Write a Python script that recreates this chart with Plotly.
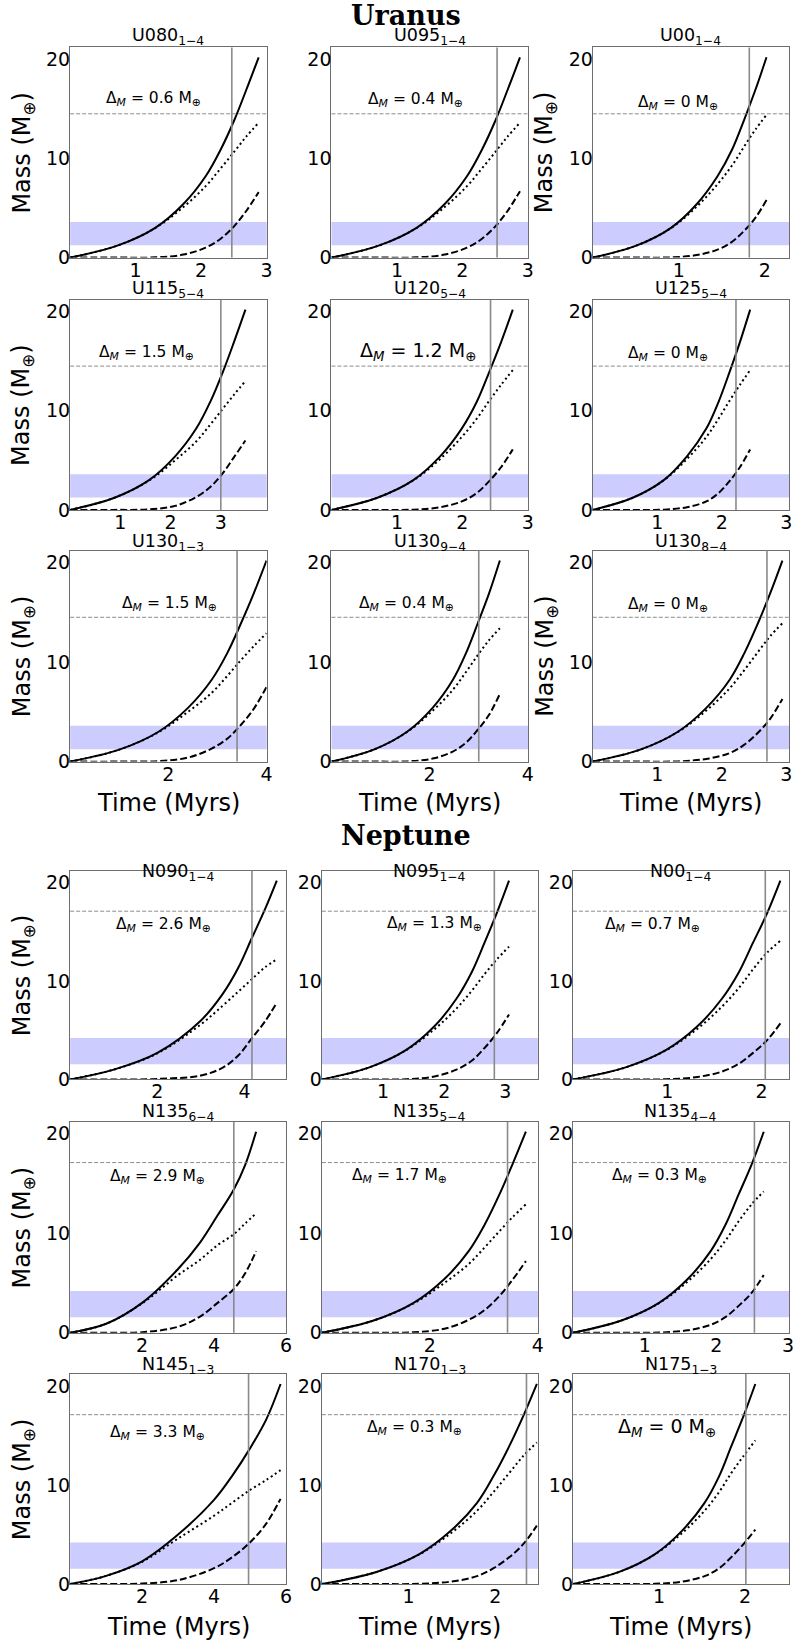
import plotly.graph_objects as go

# ------------------------------------------------------------------ data
URANUS_MASS = 14.5
NEPTUNE_MASS = 17.1
URANUS_BAND = [1.25, 3.6]
NEPTUNE_BAND = [1.55, 4.2]

NAMES = ["U080", "U095", "U00", "U115", "U120", "U125", "U130", "U130", "U130",
         "N090", "N095", "N00", "N135", "N135", "N135", "N145", "N170", "N175"]
SUBS = ["1−4", "1−4", "1−4", "5−4", "5−4", "5−4", "1−3", "9−4", "8−4",
        "1−4", "1−4", "1−4", "6−4", "5−4", "4−4", "1−3", "1−3", "1−3"]
DELTA = ["0.6", "0.4", "0", "1.5", "1.2", "0", "1.5", "0.4", "0",
         "2.6", "1.3", "0.7", "2.9", "1.7", "0.3", "3.3", "0.3", "0"]
VLINE_T = [2.47, 2.53, 1.82, 3.0, 2.43, 2.22, 3.4, 3.0, 2.7,
           4.17, 2.82, 2.04, 4.55, 3.44, 2.53, 4.96, 2.36, 2.01]
X_MAX = [3, 3, 2.28, 3.91, 3, 3.04, 4, 4, 3.04,
         4.95, 3.53, 2.29, 6, 4, 3.01, 6, 2.49, 2.51]
X_TICKS = [[1, 2, 3], [1, 2, 3], [1, 2], [1, 2, 3], [1, 2, 3], [1, 2, 3], [2, 4], [2, 4], [1, 2, 3],
           [2, 4], [1, 2, 3], [1, 2], [2, 4, 6], [2, 4], [1, 2, 3], [2, 4, 6], [1, 2], [1, 2]]
Y_TICKS = [0, 10, 20]

TIME = [
    [0, 0.72, 1.30, 1.73, 2.07, 2.30, 2.51, 2.69, 2.88],
    [0, 0.72, 1.30, 1.73, 2.07, 2.30, 2.51, 2.69, 2.88],
    [0, 0.505, 0.91, 1.21, 1.45, 1.62, 1.76, 1.89, 2.02],
    [0, 0.87, 1.57, 2.09, 2.51, 2.79, 3.04, 3.26, 3.49],
    [0, 0.69, 1.25, 1.66, 1.99, 2.22, 2.41, 2.59, 2.77],
    [0, 0.61, 1.10, 1.46, 1.76, 1.95, 2.12, 2.28, 2.44],
    [0, 1.0, 1.8, 2.4, 2.88, 3.2, 3.48, 3.74, 4.0],
    [0, 0.86, 1.54, 2.06, 2.47, 2.74, 2.98, 3.21, 3.43],
    [0, 0.735, 1.32, 1.76, 2.12, 2.35, 2.56, 2.75, 2.94],
    [0, 1, 2, 3, 3.5, 3.85, 4.17, 4.47, 4.74],
    [0, 0.765, 1.38, 1.84, 2.20, 2.45, 2.66, 2.86, 3.06],
    [0, 0.55, 0.99, 1.32, 1.58, 1.76, 1.91, 2.06, 2.2],
    [0, 1, 2, 3, 3.6, 4.1, 4.55, 4.87, 5.17],
    [0, 0.945, 1.70, 2.27, 2.72, 3.02, 3.29, 3.53, 3.78],
    [0, 0.665, 1.20, 1.60, 1.92, 2.13, 2.31, 2.49, 2.66],
    [0, 1, 2, 3, 4, 4.5, 5, 5.45, 5.85],
    [0, 0.62, 1.12, 1.49, 1.79, 1.98, 2.16, 2.32, 2.48],
    [0, 0.53, 0.95, 1.27, 1.53, 1.70, 1.84, 1.98, 2.12],
]
TOTAL = [
    [0, 1.2, 3.0, 5.4, 8.2, 10.9, 13.9, 16.9, 20.2],
    [0, 1.2, 3.0, 5.4, 8.2, 10.9, 13.9, 16.9, 20.2],
    [0, 1.2, 3.0, 5.4, 8.2, 10.9, 13.9, 16.9, 20.2],
    [0, 1.2, 3.0, 5.4, 8.2, 10.9, 13.9, 16.9, 20.2],
    [0, 1.2, 3.0, 5.4, 8.2, 10.9, 13.9, 16.9, 20.2],
    [0, 1.2, 3.0, 5.4, 8.2, 10.9, 13.9, 16.9, 20.2],
    [0, 1.2, 3.0, 5.4, 8.2, 10.9, 13.9, 16.9, 20.2],
    [0, 1.2, 3.0, 5.4, 8.2, 10.9, 13.9, 16.9, 20.2],
    [0, 1.2, 3.0, 5.4, 8.2, 10.9, 13.9, 16.9, 20.2],
    [0, 1.0, 2.7, 6.0, 8.7, 11.3, 14.4, 17.3, 20.2],
    [0, 1.2, 3.0, 5.4, 8.2, 10.9, 13.9, 16.9, 20.2],
    [0, 1.2, 3.0, 5.4, 8.2, 10.9, 13.9, 16.9, 20.2],
    [0, 0.9, 3.0, 6.4, 9.0, 11.8, 14.4, 16.9, 20.2],
    [0, 1.2, 3.0, 5.4, 8.2, 10.9, 13.9, 16.9, 20.2],
    [0, 1.2, 3.0, 5.4, 8.2, 10.9, 13.9, 16.9, 20.2],
    [0, 0.83, 2.3, 5.0, 8.5, 10.9, 13.7, 16.6, 20.2],
    [0, 1.2, 3.0, 5.4, 8.2, 10.9, 13.9, 16.9, 20.2],
    [0, 1.2, 3.0, 5.4, 8.2, 10.9, 13.9, 16.9, 20.2],
]
CORE = [
    [0, 1.2, 2.98, 5.1, 7.2, 9.0, 10.7, 12.2, 13.6],
    [0, 1.2, 2.98, 5.1, 7.2, 9.0, 10.7, 12.2, 13.6],
    [0, 1.2, 2.98, 5.15, 7.4, 9.3, 11.2, 12.9, 14.4],
    [0, 1.2, 2.95, 5.0, 6.9, 8.6, 10.2, 11.6, 13.0],
    [0, 1.2, 2.98, 5.13, 7.35, 9.2, 11.0, 12.6, 14.1],
    [0, 1.2, 2.98, 5.13, 7.35, 9.2, 11.0, 12.6, 14.1],
    [0, 1.2, 2.95, 5.0, 6.9, 8.6, 10.2, 11.6, 12.9],
    [0, 1.2, 2.98, 5.1, 7.2, 9.0, 10.7, 12.2, 13.4],
    [0, 1.2, 2.98, 5.13, 7.35, 9.2, 11.0, 12.6, 13.9],
    [0, 1.0, 2.65, 5.6, 7.5, 8.9, 10.2, 11.4, 12.2],
    [0, 1.2, 2.98, 5.1, 7.2, 9.0, 10.7, 12.2, 13.5],
    [0, 1.2, 2.98, 5.15, 7.4, 9.3, 11.2, 12.9, 14.1],
    [0, 0.9, 2.95, 5.8, 7.3, 8.8, 9.9, 11.0, 12.0],
    [0, 1.2, 2.95, 5.0, 6.9, 8.6, 10.2, 11.6, 12.9],
    [0, 1.2, 2.98, 5.15, 7.4, 9.3, 11.2, 12.9, 14.2],
    [0, 0.83, 2.25, 4.6, 6.9, 8.2, 9.5, 10.5, 11.5],
    [0, 1.2, 2.98, 5.15, 7.4, 9.3, 11.2, 12.9, 14.3],
    [0, 1.2, 2.98, 5.15, 7.4, 9.3, 11.2, 12.9, 14.5],
]
ENVELOPE = [
    [0, 0, 0.02, 0.3, 1.0, 1.9, 3.2, 4.7, 6.6],
    [0, 0, 0.02, 0.3, 1.0, 1.9, 3.2, 4.7, 6.7],
    [0, 0, 0.02, 0.25, 0.8, 1.6, 2.7, 4.0, 5.8],
    [0, 0, 0.05, 0.4, 1.3, 2.3, 3.7, 5.3, 7.0],
    [0, 0, 0.02, 0.27, 0.85, 1.7, 2.9, 4.3, 6.1],
    [0, 0, 0.02, 0.27, 0.85, 1.7, 2.9, 4.3, 6.1],
    [0, 0, 0.05, 0.4, 1.3, 2.3, 3.7, 5.3, 7.5],
    [0, 0, 0.02, 0.3, 1.0, 1.9, 3.2, 4.7, 6.8],
    [0, 0, 0.02, 0.27, 0.85, 1.7, 2.9, 4.3, 6.3],
    [0, 0, 0.05, 0.4, 1.2, 2.4, 4.2, 5.9, 7.8],
    [0, 0, 0.02, 0.3, 1.0, 1.9, 3.2, 4.7, 6.6],
    [0, 0, 0.02, 0.25, 0.8, 1.6, 2.7, 4.0, 5.7],
    [0, 0, 0.05, 0.6, 1.6, 3.0, 4.4, 6.0, 8.2],
    [0, 0, 0.05, 0.4, 1.3, 2.3, 3.7, 5.3, 7.2],
    [0, 0, 0.02, 0.25, 0.8, 1.6, 2.7, 4.0, 5.8],
    [0, 0, 0.05, 0.4, 1.6, 2.7, 4.2, 6.1, 8.6],
    [0, 0, 0.02, 0.25, 0.8, 1.6, 2.7, 4.0, 5.9],
    [0, 0, 0.02, 0.25, 0.8, 1.6, 2.7, 4.0, 5.5],
]

# ------------------------------------------------------------------ layout (pixels)
W, H = 798, 1649
Y_MAX = 21.2
U_COLS = [(70.7, 268.7), (334.0, 532.0), (597.3, 795.0)]
N_COLS = [(70.7, 288.3), (324.3, 542.0), (577.3, 795.0)]
U_ROWS = [(47.7, 259.3), (301.7, 513.3), (554.3, 766.7)]
N_ROWS = [(876.7, 1086.7), (1129.3, 1341.7), (1383.3, 1594.7)]
TITLE_Y = [36.5, 291.5, 546.5, 878.0, 1119.7, 1374.7]
TIME_LABEL_Y = [808, 1638]
LABEL_XY = [(1.28, 16.0), (1.29, 15.9), (0.99, 15.6), (1.52, 15.8), (1.32, 16.0), (1.17, 15.7),
            (2.02, 15.8), (1.52, 15.8), (1.17, 15.7), (2.14, 15.7), (1.84, 15.8), (0.84, 15.7),
            (2.42, 15.7), (1.43, 15.8), (1.21, 15.8), (2.42, 15.3), (1.07, 15.8), (1.09, 15.8)]
BIG_LABEL = [4, 17]
MASS_LABEL_PANELS = [0, 3, 6, 2, 8, 9, 12, 15]

FONT = "DejaVu Sans"
FRAME = "#6e6e6e"


def px(x):
    return x / W


def py(y):
    return 1 - y / H


fig = go.Figure()
annotations = []
shapes = []
axes = {}

for i in range(18):
    n = i + 1
    grp = 0 if i < 9 else 1
    r = (i % 9) // 3
    c = i % 3
    l, rr = (U_COLS if grp == 0 else N_COLS)[c]
    t, b = (U_ROWS if grp == 0 else N_ROWS)[r]
    xs = "x" if n == 1 else f"x{n}"
    ys = "y" if n == 1 else f"y{n}"
    xk = "xaxis" if n == 1 else f"xaxis{n}"
    yk = "yaxis" if n == 1 else f"yaxis{n}"
    axes[xk] = dict(domain=[px(l), px(rr)], anchor=ys, range=[0, X_MAX[i] * 1.0008],
                    tickvals=X_TICKS[i], ticktext=[str(v) for v in X_TICKS[i]],
                    showgrid=False, zeroline=False, showline=True, mirror=True,
                    linecolor=FRAME, linewidth=1.3, ticks="", ticklabelstandoff=-5,
                    tickfont=dict(family=FONT, size=19, color="black"))
    axes[yk] = dict(domain=[py(b), py(t)], anchor=xs, range=[0, Y_MAX],
                    tickvals=Y_TICKS, ticktext=[str(v) for v in Y_TICKS],
                    showgrid=False, zeroline=False, showline=True, mirror=True,
                    linecolor=FRAME, linewidth=1.3, ticks="", ticklabelstandoff=-5,
                    tickfont=dict(family=FONT, size=19, color="black"))

    band = URANUS_BAND if grp == 0 else NEPTUNE_BAND
    pmass = URANUS_MASS if grp == 0 else NEPTUNE_MASS
    shapes.append(dict(type="rect", xref=f"{xs} domain", yref=ys, x0=0, x1=1,
                       y0=band[0], y1=band[1], fillcolor="rgb(204,204,255)",
                       line=dict(width=0), layer="below"))
    shapes.append(dict(type="line", xref=f"{xs} domain", yref=ys, x0=0, x1=1,
                       y0=pmass, y1=pmass, line=dict(color="#8c8c8c", width=1, dash="4px,2px")))
    shapes.append(dict(type="line", xref=xs, yref=f"{ys} domain", x0=VLINE_T[i], x1=VLINE_T[i],
                       y0=0, y1=1, line=dict(color="#8a8a8a", width=1.6)))

    fig.add_trace(go.Scatter(x=TIME[i], y=TOTAL[i], mode="lines", xaxis=xs, yaxis=ys,
                             line=dict(color="black", width=2, shape="spline", smoothing=1.0),
                             showlegend=False, hoverinfo="skip"))
    fig.add_trace(go.Scatter(x=TIME[i], y=CORE[i], mode="lines", xaxis=xs, yaxis=ys,
                             line=dict(color="black", width=2, dash="2px,3px",
                                       shape="spline", smoothing=1.0),
                             showlegend=False, hoverinfo="skip"))
    fig.add_trace(go.Scatter(x=TIME[i], y=ENVELOPE[i], mode="lines", xaxis=xs, yaxis=ys,
                             line=dict(color="black", width=2, dash="7px,3px",
                                       shape="spline", smoothing=1.0),
                             showlegend=False, hoverinfo="skip"))

    # panel title
    annotations.append(dict(text=f"{NAMES[i]}<sub>{SUBS[i]}</sub>", xref="paper", yref="paper",
                            x=px((l + rr) / 2), y=py(TITLE_Y[grp * 3 + r]), xanchor="center",
                            yanchor="middle", showarrow=False,
                            font=dict(family=FONT, size=17.5, color="black")))
    # delta label
    lx, ly = LABEL_XY[i]
    annotations.append(dict(text=f"Δ<sub><i>M</i></sub> = {DELTA[i]} M<sub>⊕</sub>",
                            xref=xs, yref=ys, x=lx, y=ly, xanchor="center", yanchor="middle",
                            showarrow=False,
                            font=dict(family=FONT, size=19 if i in BIG_LABEL else 15.5,
                                      color="black")))
    # mass label
    if i in MASS_LABEL_PANELS:
        annotations.append(dict(text="Mass (M<sub>⊕</sub>)", xref="paper", yref="paper",
                                x=px(l - 47.4), y=py((t + b) / 2), xanchor="center",
                                yanchor="middle", textangle=-90, showarrow=False,
                                font=dict(family=FONT, size=24, color="black")))
    # time label
    if r == 2:
        annotations.append(dict(text="Time (Myrs)", xref="paper", yref="paper",
                                x=px((l + rr) / 2), y=py(TIME_LABEL_Y[grp]), xanchor="center",
                                yanchor="middle", showarrow=False,
                                font=dict(family=FONT, size=24, color="black")))

annotations.append(dict(text="<b>Uranus</b>", xref="paper", yref="paper", x=px(409), y=py(15.5),
                        xanchor="center", yanchor="middle", showarrow=False,
                        font=dict(family="DejaVu Serif", size=27, color="black")))
annotations.append(dict(text="<b>Neptune</b>", xref="paper", yref="paper", x=px(409), y=py(841),
                        xanchor="center", yanchor="middle", showarrow=False,
                        font=dict(family="DejaVu Serif", size=27, color="black")))

fig.update_layout(width=W, height=H, margin=dict(l=0, r=0, t=0, b=0),
                  paper_bgcolor="white", plot_bgcolor="white",
                  annotations=annotations, shapes=shapes, showlegend=False, **axes)

fig.write_html("out.html")
